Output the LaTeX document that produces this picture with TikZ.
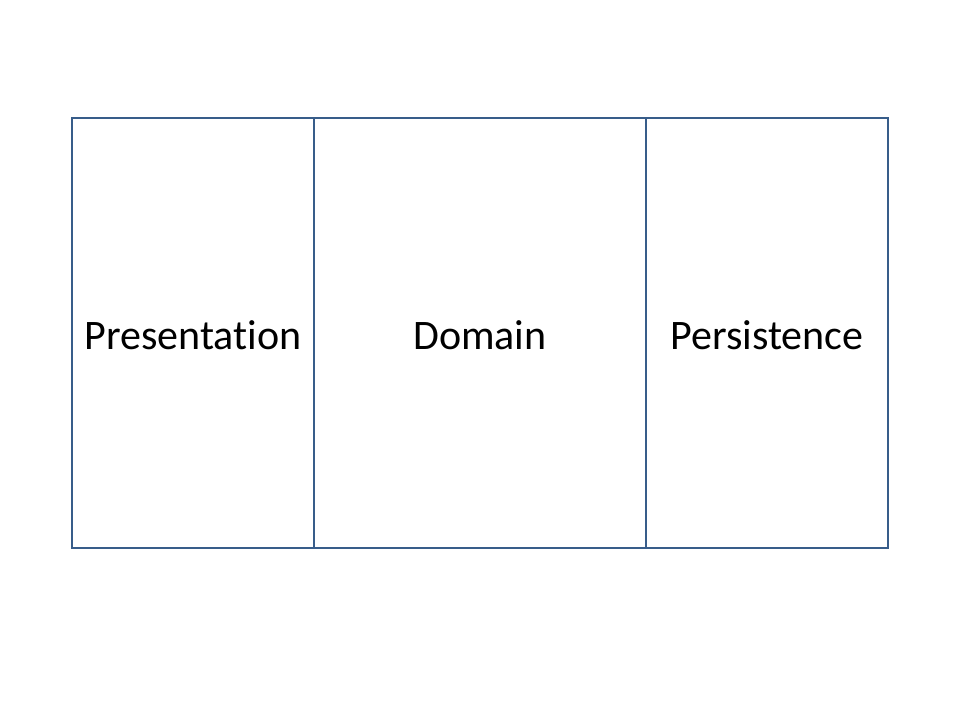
\documentclass[tikz,border=0pt]{standalone}
\usepackage{fontspec}
\setmainfont[Ligatures={NoCommon}]{Carlito}
\definecolor{boxline}{HTML}{385D8A}
\begin{document}
\begin{tikzpicture}[x=1pt,y=-1pt,
  layer/.style={draw=boxline,line width=2pt,fill=white,inner sep=0pt,font=\fontsize{42}{50}\selectfont,text=black}]
\useasboundingbox (0,0) rectangle (960,720);
\node[layer,minimum width=242pt,minimum height=430pt] (pres) at (193,333) {};
\node[layer,minimum width=332pt,minimum height=430pt] (dom) at (480,333) {};
\node[layer,minimum width=242pt,minimum height=430pt] (pers) at (767,333) {};
\node[font=\fontsize{42}{50}\selectfont,inner sep=0pt] (tpres) at (193,335) {Presentation};
\node[font=\fontsize{42}{50}\selectfont,inner sep=0pt] (tdom) at (480,335) {Domain};
\node[font=\fontsize{42}{50}\selectfont,inner sep=0pt] (tpers) at (767,335) {Persistence};
\end{tikzpicture}
\end{document}
